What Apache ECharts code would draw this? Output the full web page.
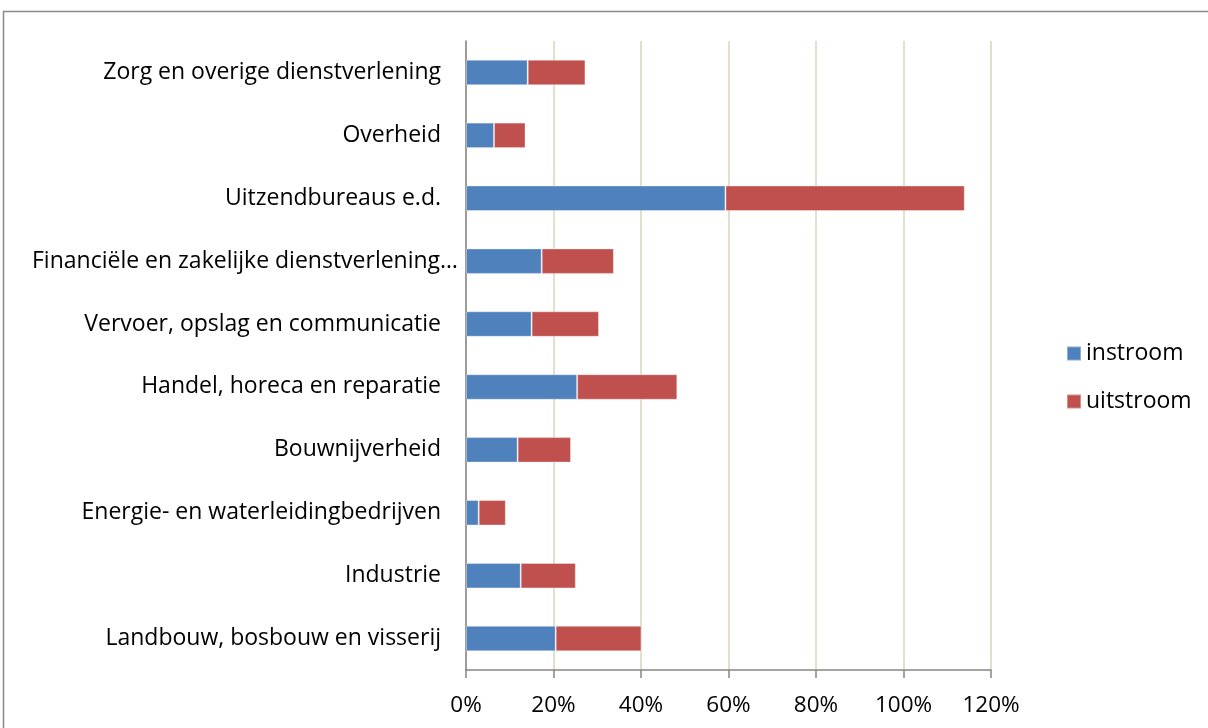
<!DOCTYPE html>
<html><head><meta charset="utf-8">
<script src="https://cdn.jsdelivr.net/npm/echarts@6/dist/echarts.min.js"></script>
<style>html,body{margin:0;padding:0;background:#fff}#c{width:1208px;height:728px}</style>
</head><body><div id="c"></div>
<script>
const categories = ["Landbouw, bosbouw en visserij","Industrie","Energie- en waterleidingbedrijven","Bouwnijverheid","Handel, horeca en reparatie","Vervoer, opslag en communicatie","Financiële en zakelijke dienstverlening…","Uitzendbureaus e.d.","Overheid","Zorg en overige dienstverlening"];
const instroom = [20.5,12.5,2.9,11.8,25.4,15.0,17.3,59.3,6.4,14.1];
const uitstroom = [19.6,12.6,6.2,12.2,22.9,15.4,16.5,54.7,7.2,13.2];
const xTicks = [0,20,40,60,80,100,120];
const FONT = "Open Sans";
const chart = echarts.init(document.getElementById('c'));
chart.setOption({
  animation:false,
  textStyle:{fontFamily:FONT},
  graphic:[{type:'rect',shape:{x:3.5,y:11.5,width:1300,height:900},style:{fill:'none',stroke:'#8a8a8a',lineWidth:1.5},silent:true}],
  grid:{left:466,right:217,top:41,bottom:58},
  legend:{orient:'vertical',left:1061,top:337,itemWidth:14,itemHeight:14,itemGap:25,icon:'rect',
    textStyle:{fontFamily:FONT,fontSize:23,color:'#000',padding:[0,0,0,0]},data:['instroom','uitstroom']},
  xAxis:{type:'value',min:xTicks[0],max:xTicks[xTicks.length-1],interval:20,
    axisLine:{show:true,lineStyle:{color:'#868686',width:1.5}},
    axisTick:{show:true,length:8,lineStyle:{color:'#868686',width:1.5}},
    axisLabel:{formatter:v=>v+'%',fontSize:22.5,color:'#000',margin:24,fontFamily:FONT},
    splitLine:{show:true,lineStyle:{color:'#DAD5BC',width:1.5}}},
  yAxis:{type:'category',data:categories,
    axisLine:{show:true,lineStyle:{color:'#868686',width:1.5}},
    axisTick:{show:false},
    axisLabel:{fontSize:23,color:'#000',margin:25,fontFamily:FONT,
      formatter:(v,i)=> i===6 ? '{w|'+v+'}' : v,
      rich:{w:{fontSize:23,fontFamily:FONT,color:'#000',padding:[0,-17,0,0]}}}},
  series:[
    {name:'instroom',type:'bar',stack:'s',data:instroom,barWidth:'40.5%',itemStyle:{color:'#4F81BD',borderColor:'rgba(255,255,255,0.35)',borderWidth:1}},
    {name:'uitstroom',type:'bar',stack:'s',data:uitstroom,barWidth:'40.5%',itemStyle:{color:'#C0504D',borderColor:'rgba(255,255,255,0.35)',borderWidth:1}}
  ]
});
</script></body></html>
